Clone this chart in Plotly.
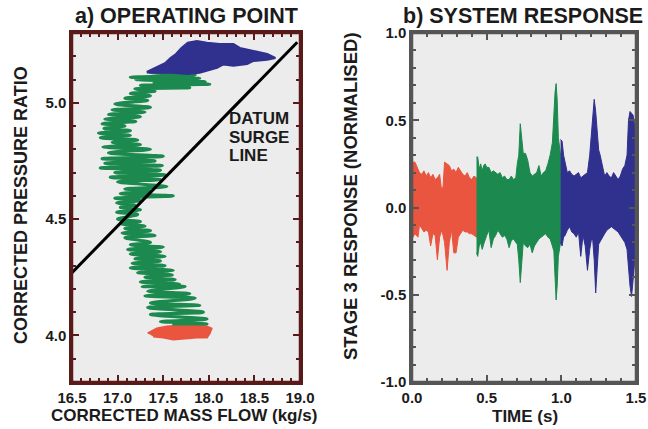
import plotly.graph_objects as go

# ---------------- Panel a) operating point ----------------
green_flow = [17.60, 17.98, 17.47, 17.98, 17.36, 17.94, 17.33, 17.90, 17.36, 17.85,
              17.30, 17.79, 17.33, 17.74, 17.27, 17.68, 17.25, 17.63, 17.30, 17.60,
              17.22, 17.61, 17.14, 17.52, 17.16, 17.47, 17.19, 17.52, 17.14, 17.47,
              17.11, 17.50, 17.14, 17.36, 17.08, 17.41, 17.05, 17.36, 17.08, 17.30,
              17.03, 17.25, 17.00, 17.22, 16.99, 17.25, 17.03, 17.19, 16.99, 17.25,
              16.97, 17.61, 17.03, 17.36, 17.08, 17.54, 17.00, 17.47, 16.92, 17.52,
              16.97, 17.47, 16.81, 17.49, 16.86, 17.41, 16.83, 17.50, 16.90, 17.36,
              16.84, 17.25, 16.94, 17.22, 16.81, 17.14, 16.79, 17.14, 16.85, 17.08,
              16.83, 17.20, 16.86, 17.25, 16.90, 17.30, 16.94, 17.36, 16.97, 17.33,
              17.08, 17.36, 17.14, 17.41, 17.19, 17.79, 17.25, 18.01, 17.40, 17.96,
              17.20, 17.90, 17.14, 17.85, 17.36, 17.79, 17.41, 17.60]
green_pr = [4.050, 4.050, 4.060, 4.070, 4.090, 4.100, 4.120, 4.130, 4.140, 4.160,
            4.170, 4.180, 4.190, 4.210, 4.210, 4.220, 4.230, 4.240, 4.250, 4.260,
            4.270, 4.280, 4.290, 4.300, 4.310, 4.320, 4.330, 4.340, 4.350, 4.360,
            4.370, 4.380, 4.390, 4.400, 4.420, 4.430, 4.440, 4.450, 4.460, 4.470,
            4.480, 4.490, 4.500, 4.520, 4.530, 4.540, 4.550, 4.560, 4.570, 4.580,
            4.590, 4.600, 4.610, 4.620, 4.630, 4.640, 4.660, 4.670, 4.680, 4.690,
            4.700, 4.710, 4.720, 4.730, 4.740, 4.750, 4.760, 4.770, 4.785, 4.800,
            4.810, 4.820, 4.830, 4.840, 4.850, 4.860, 4.870, 4.880, 4.890, 4.900,
            4.910, 4.920, 4.930, 4.940, 4.950, 4.960, 4.970, 4.980, 4.995, 5.010,
            5.020, 5.030, 5.040, 5.050, 5.060, 5.065, 5.075, 5.080, 5.085, 5.090,
            5.100, 5.105, 5.110, 5.120, 5.130, 5.135, 5.145, 5.150]

blue_flow = [17.32, 17.46, 17.52, 17.58, 17.64, 17.70, 17.77, 17.87, 17.98, 18.12,
             18.27, 18.34, 18.49, 18.64, 18.73, 18.64, 18.49, 18.42, 18.27, 18.16,
             18.09, 17.90, 17.76, 17.61, 17.46, 17.32]
blue_pr = [5.133, 5.159, 5.170, 5.193, 5.210, 5.236, 5.258, 5.266, 5.258, 5.253,
           5.253, 5.236, 5.223, 5.210, 5.193, 5.185, 5.180, 5.167, 5.159, 5.165,
           5.150, 5.129, 5.124, 5.129, 5.129, 5.130]

red_flow = [17.33, 17.43, 17.54, 17.68, 17.83, 17.98, 18.03, 18.01, 17.98, 17.87,
            17.76, 17.61, 17.50, 17.39]
red_pr = [4.009, 4.030, 4.039, 4.043, 4.047, 4.039, 4.030, 4.009, 3.991, 3.991,
          3.987, 3.983, 3.991, 3.996]

surge_flow = [16.5, 18.97]
surge_pr = [4.27, 5.26]

flow_range = [16.5, 19.0]
pr_range = [3.8, 5.3]
flow_ticks = [16.5, 17.0, 17.5, 18.0, 18.5, 19.0]
flow_ticklabels = ["16.5", "17.0", "17.5", "18.0", "18.5", "19.0"]
pr_ticks = [4.0, 4.5, 5.0]
pr_ticklabels = ["4.0", "4.5", "5.0"]

# ---------------- Panel b) system response ----------------
red_t = [0.0, 0.02, 0.04, 0.05, 0.065, 0.08, 0.095, 0.11, 0.125, 0.14,
         0.155, 0.17, 0.185, 0.198, 0.208, 0.218, 0.235, 0.25, 0.265, 0.28,
         0.295, 0.31, 0.325, 0.34, 0.355, 0.37, 0.385, 0.40, 0.415, 0.432]
red_hi = [0.26, 0.26, 0.22, 0.20, 0.19, 0.21, 0.18, 0.20, 0.17, 0.19,
          0.16, 0.17, 0.19, 0.10, 0.12, 0.26, 0.25, 0.24, 0.21, 0.22,
          0.20, 0.23, 0.21, 0.19, 0.18, 0.20, 0.17, 0.16, 0.18, 0.17]
red_lo = [-0.18, -0.15, -0.17, -0.10, -0.12, -0.14, -0.13, -0.14, -0.22, -0.15,
          -0.16, -0.30, -0.17, -0.13, -0.16, -0.20, -0.36, -0.20, -0.13, -0.26,
          -0.26, -0.17, -0.15, -0.13, -0.14, -0.14, -0.15, -0.15, -0.16, -0.17]

green_t = [0.432, 0.44, 0.45, 0.46, 0.47, 0.48, 0.49, 0.50, 0.515, 0.53,
           0.545, 0.56, 0.575, 0.59, 0.605, 0.62, 0.635, 0.65, 0.665, 0.68,
           0.695, 0.705, 0.715, 0.725, 0.735, 0.745, 0.76, 0.775, 0.79, 0.805,
           0.82, 0.835, 0.85, 0.865, 0.88, 0.895, 0.91, 0.925, 0.94, 0.95,
           0.958, 0.965, 0.972, 0.98, 0.995]
green_hi = [0.29, 0.29, 0.22, 0.25, 0.21, 0.24, 0.25, 0.23, 0.23, 0.20,
            0.21, 0.20, 0.19, 0.20, 0.17, 0.18, 0.16, 0.16, 0.18, 0.16,
            0.17, 0.25, 0.30, 0.48, 0.40, 0.31, 0.31, 0.27, 0.20, 0.18,
            0.19, 0.20, 0.24, 0.18, 0.20, 0.21, 0.25, 0.30, 0.37, 0.55,
            0.66, 0.71, 0.62, 0.40, 0.30]
green_lo = [-0.26, -0.28, -0.22, -0.20, -0.24, -0.21, -0.18, -0.16, -0.13, -0.23,
            -0.18, -0.16, -0.13, -0.15, -0.17, -0.16, -0.18, -0.23, -0.19, -0.18,
            -0.20, -0.21, -0.30, -0.43, -0.30, -0.20, -0.22, -0.23, -0.21, -0.26,
            -0.22, -0.20, -0.18, -0.17, -0.16, -0.15, -0.17, -0.18, -0.22, -0.25,
            -0.40, -0.53, -0.45, -0.28, -0.20]

blue_t = [0.995, 1.005, 1.015, 1.025, 1.04, 1.055, 1.07, 1.085, 1.10, 1.115,
          1.13, 1.145, 1.16, 1.175, 1.19, 1.20, 1.21, 1.22, 1.23, 1.24,
          1.25, 1.26, 1.275, 1.29, 1.305, 1.32, 1.335, 1.35, 1.365, 1.38,
          1.395, 1.41, 1.425, 1.44, 1.45, 1.46, 1.47, 1.48, 1.49, 1.50]
blue_hi = [0.39, 0.38, 0.30, 0.26, 0.20, 0.21, 0.19, 0.18, 0.19, 0.20,
           0.17, 0.18, 0.19, 0.20, 0.30, 0.40, 0.50, 0.62, 0.55, 0.42,
           0.33, 0.30, 0.24, 0.18, 0.20, 0.18, 0.17, 0.20, 0.18, 0.16,
           0.18, 0.22, 0.24, 0.30, 0.50, 0.55, 0.54, 0.53, 0.48, 0.40]
blue_lo = [-0.20, -0.22, -0.17, -0.16, -0.13, -0.11, -0.14, -0.15, -0.17, -0.14,
           -0.28, -0.16, -0.22, -0.36, -0.24, -0.19, -0.18, -0.30, -0.49, -0.35,
           -0.21, -0.19, -0.17, -0.15, -0.13, -0.12, -0.11, -0.12, -0.13, -0.14,
           -0.16, -0.18, -0.20, -0.24, -0.35, -0.45, -0.51, -0.42, -0.32, -0.30]

time_range = [0.0, 1.5]
resp_range = [-1.0, 1.0]
time_ticks = [0.0, 0.5, 1.0, 1.5]
time_ticklabels = ["0.0", "0.5", "1.0", "1.5"]
resp_ticks = [-1.0, -0.5, 0.0, 0.5, 1.0]
resp_ticklabels = ["-1.0", "-0.5", "0.0", "0.5", "1.0"]

RED = "#e9553f"
GREEN = "#1c8a4e"
BLUE = "#30308f"
FRAME_A = "#5a1a1a"
FRAME_B = "#555555"
FONT = "Liberation Sans"

W, H = 648, 429
PLOT_TOP, PLOT_BOTTOM = 33, 382
A_LEFT, A_RIGHT = 72, 300
B_LEFT, B_RIGHT = 412, 636

fig = go.Figure()

fig.add_trace(go.Scatter(x=red_flow, y=red_pr, mode="lines", fill="toself",
                         fillcolor=RED, line=dict(color=RED, width=2),
                         xaxis="x", yaxis="y", showlegend=False))
fig.add_trace(go.Scatter(x=green_flow, y=green_pr, mode="lines",
                         line=dict(color=GREEN, width=3.2, shape="spline", smoothing=1.0),
                         xaxis="x", yaxis="y", showlegend=False))
fig.add_trace(go.Scatter(x=blue_flow, y=blue_pr, mode="lines", fill="toself",
                         fillcolor=BLUE, line=dict(color=BLUE, width=2),
                         xaxis="x", yaxis="y", showlegend=False))
fig.add_trace(go.Scatter(x=surge_flow, y=surge_pr, mode="lines",
                         line=dict(color="black", width=3),
                         xaxis="x", yaxis="y", showlegend=False))

for t, hi, lo, col in [(red_t, red_hi, red_lo, RED),
                       (green_t, green_hi, green_lo, GREEN),
                       (blue_t, blue_hi, blue_lo, BLUE)]:
    fig.add_trace(go.Scatter(x=t + t[::-1], y=hi + lo[::-1], mode="lines",
                             fill="toself", fillcolor=col,
                             line=dict(color=col, width=1),
                             xaxis="x2", yaxis="y2", showlegend=False))

for xa, ya, col in [("x", "y", FRAME_A), ("x2", "y2", FRAME_B)]:
    fig.add_shape(type="rect", xref=xa + " domain", yref=ya + " domain",
                  x0=0, x1=1, y0=0, y1=1, layer="above",
                  line=dict(color=col, width=2.5))


def axis(domain, anchor, rng, vals, labels, anchor_min, col):
    return dict(
        domain=domain, anchor=anchor, range=rng, automargin=False,
        tickmode="array", tickvals=vals, ticktext=["<b>%s</b>" % s for s in labels],
        showline=True, linecolor=col, linewidth=2.5, mirror="ticks",
        ticks="inside", ticklen=7, tickwidth=2, tickcolor=col,
        minor=dict(ticks="inside", ticklen=4, tickwidth=1.5, tickcolor=col,
                   tick0=anchor_min, dtick=0.1, showgrid=False),
        showgrid=False, zeroline=False,
        tickfont=dict(family=FONT, size=15, color="#1b1b1b"),
    )


ydom = [1 - PLOT_BOTTOM / H, 1 - PLOT_TOP / H]
fig.update_layout(
    width=W, height=H,
    margin=dict(l=0, r=0, t=0, b=0),
    paper_bgcolor="white",
    plot_bgcolor="#ececec",
    showlegend=False,
    xaxis=axis([A_LEFT / W, A_RIGHT / W], "y", flow_range, flow_ticks, flow_ticklabels, 16.5, FRAME_A),
    yaxis=axis(ydom, "x", pr_range, pr_ticks, pr_ticklabels, 3.8, FRAME_A),
    xaxis2=axis([B_LEFT / W, B_RIGHT / W], "y2", time_range, time_ticks, time_ticklabels, 0.0, FRAME_B),
    yaxis2=axis(ydom, "x2", resp_range, resp_ticks, resp_ticklabels, -1.0, FRAME_B),
)


def ann(text, x, y, size, angle=0, xanchor="center", xref="paper", yref="paper"):
    fig.add_annotation(text="<b>%s</b>" % text, x=x, y=y, xref=xref, yref=yref,
                       showarrow=False, textangle=angle, xanchor=xanchor,
                       yanchor="middle",
                       font=dict(family=FONT, size=size, color="#1b1b1b"))


ann("a) OPERATING POINT", 186 / W, 1 - 16 / H, 21.5)
ann("b) SYSTEM RESPONSE", 523 / W, 1 - 16 / H, 21.5)
ann("CORRECTED MASS FLOW (kg/s)", 184 / W, 1 - 415 / H, 17)
ann("TIME (s)", 525 / W, 1 - 416 / H, 17)
ann("CORRECTED PRESSURE RATIO", 21 / W, 1 - 205 / H, 18, angle=-90)
ann("STAGE 3 RESPONSE (NORMALISED)", 350 / W, 1 - 196 / H, 18.5, angle=-90)
ann("DATUM", 18.20, 4.931, 17, xanchor="left", xref="x", yref="y")
ann("SURGE", 18.20, 4.850, 17, xanchor="left", xref="x", yref="y")
ann("LINE", 18.20, 4.773, 17, xanchor="left", xref="x", yref="y")

fig.write_html("out.html")
